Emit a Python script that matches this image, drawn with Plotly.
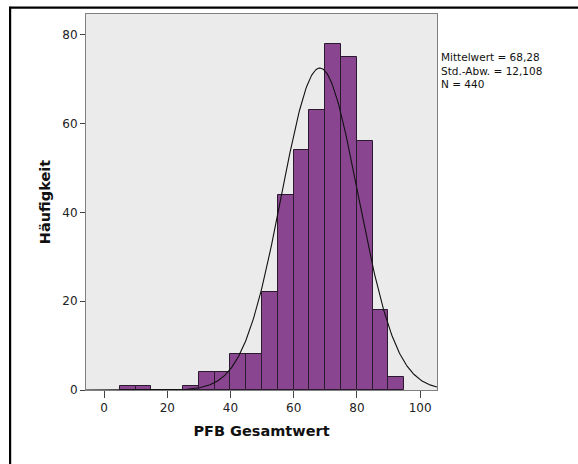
import numpy as np
import plotly.graph_objects as go

# Data
bin_starts = [5, 10, 15, 20, 25, 30, 35, 40, 45, 50, 55, 60, 65, 70, 75, 80, 85, 90]
counts = [1, 1, 0, 0, 1, 4, 4, 8, 8, 22, 44, 54, 63, 78, 75, 56, 18, 3]
bin_width = 5
mean_val = 68.28
sd_val = 12.108
n_val = 440
stat_lines = ["Mittelwert = 68,28", "Std.-Abw. = 12,108", "N = 440"]
x_ticks = [0, 20, 40, 60, 80, 100]
y_ticks = [0, 20, 40, 60, 80]

W, H = 578, 464
L, R, T, B = 86, 140.5, 14.3, 73.5
x_range = [-5.72, 105.35]
y_range = [0, 84.65]

centers = [s + bin_width / 2 for s in bin_starts]

fig = go.Figure()
fig.add_trace(go.Bar(
    x=centers, y=counts, width=[bin_width] * len(centers),
    marker=dict(color="#8A4591", line=dict(color="#2B1A2E", width=1)),
    showlegend=False, hoverinfo="x+y",
))

xs = np.linspace(x_range[0], x_range[1], 400)
ys = n_val * bin_width * np.exp(-0.5 * ((xs - mean_val) / sd_val) ** 2) / (sd_val * np.sqrt(2 * np.pi))
fig.add_trace(go.Scatter(x=xs, y=ys, mode="lines", line=dict(color="#111111", width=1.1),
                         showlegend=False, hoverinfo="skip"))

pw = W - L - R
ph = H - T - B

def px_x(p):
    return (p - L) / pw

def px_y(p):
    return (H - B - p) / ph

shapes = [
    dict(type="line", xref="paper", yref="paper", x0=px_x(9), x1=px_x(W + 5), y0=px_y(8), y1=px_y(8),
         line=dict(color="black", width=2.2)),
    dict(type="line", xref="paper", yref="paper", x0=px_x(10), x1=px_x(10), y0=px_y(7), y1=px_y(H + 5),
         line=dict(color="black", width=2.2)),
]

annotations = [dict(
    xref="paper", yref="paper", x=px_x(440), y=px_y(71),
    xanchor="left", yanchor="middle", align="left", showarrow=False,
    text="<br>".join(stat_lines),
    font=dict(family="DejaVu Sans", size=10.5, color="#111111"),
)]

fig.update_layout(
    width=W, height=H,
    margin=dict(l=L, r=R, t=T, b=B, pad=0),
    paper_bgcolor="white", plot_bgcolor="#EBEBEB",
    bargap=0,
    font=dict(family="DejaVu Sans", color="#111111"),
    shapes=shapes, annotations=annotations,
    xaxis=dict(
        range=x_range, tickvals=x_ticks, ticks="outside", ticklen=7, tickcolor="#444",
        showgrid=False, zeroline=False, showline=True, linecolor="#808080", linewidth=1, mirror=True,
        tickfont=dict(size=12, family="DejaVu Sans", color="#222"),
        title=dict(text="<b>PFB Gesamtwert</b>", font=dict(size=14.5, family="DejaVu Sans", color="#111"), standoff=11),
    ),
    yaxis=dict(
        range=y_range, tickvals=y_ticks, ticks="outside", ticklen=5, tickcolor="#444",
        showgrid=False, zeroline=False, showline=True, linecolor="#808080", linewidth=1, mirror=True,
        tickfont=dict(size=12, family="DejaVu Sans", color="#222"),
        title=dict(text="<b>Häufigkeit</b>", font=dict(size=14.5, family="DejaVu Sans", color="#111"), standoff=8),
    ),
)

fig.write_html("out.html")
